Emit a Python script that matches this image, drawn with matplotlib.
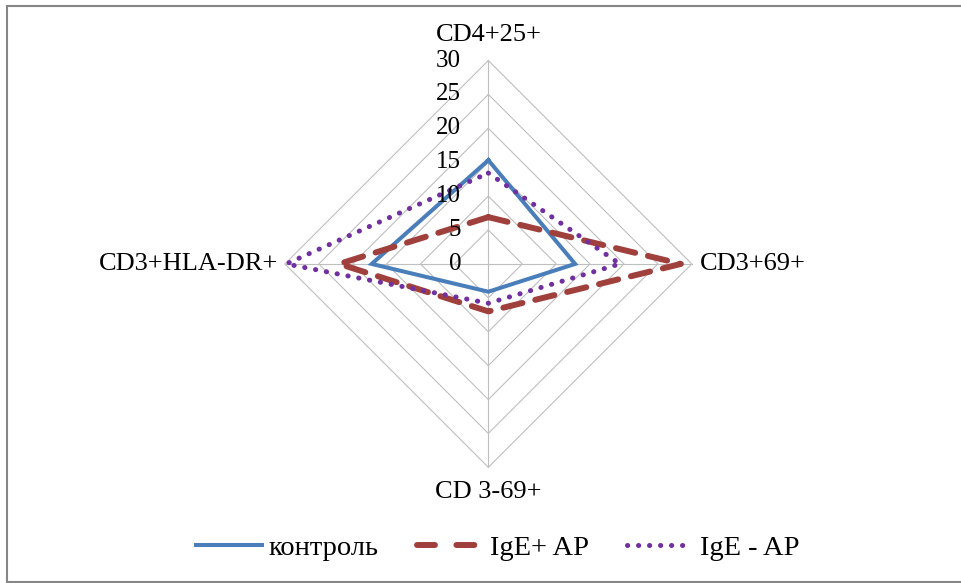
import numpy as np
import matplotlib
matplotlib.use('Agg')
import matplotlib.pyplot as plt
from matplotlib.lines import Line2D

plt.rcParams['font.family'] = ['Liberation Serif', 'DejaVu Serif']

categories = ['CD4+25+', 'CD3+69+', 'CD 3-69+', 'CD3+HLA-DR+']
control = [15.3, 12.8, 4.1, 17.2]
ige_pos = [6.9, 28.4, 7.0, 22.0]
ige_neg = [13.4, 19.4, 5.8, 29.8]
ring_levels = [0, 5, 10, 15, 20, 25, 30]
series_names = ['контроль', 'IgE+ AP', 'IgE - AP']

# spokes go up, right, down, left (clockwise from the top)
angles = np.deg2rad([90, 0, -90, 180])
r_max = 30


def to_xy(values):
    v = np.asarray(values, dtype=float)
    x = v * np.cos(angles)
    y = v * np.sin(angles)
    return np.append(x, x[0]), np.append(y, y[0])


fig = plt.figure(figsize=(9.61, 5.83), dpi=100)
ax = fig.add_axes([0.2753, 0.1635, 0.4657, 0.7676])
ax.set_xlim(-33, 33)
ax.set_ylim(-33, 33)
ax.set_aspect('equal')
ax.axis('off')

grid_col = '#BFBFBF'
for lev in ring_levels[1:]:
    gx, gy = to_xy([lev] * 4)
    ax.plot(gx, gy, color=grid_col, lw=0.8, zorder=1)
for a in angles:
    ax.plot([0, r_max * np.cos(a)], [0, r_max * np.sin(a)], color=grid_col, lw=0.8, zorder=1)

# series
x, y = to_xy(control)
ax.plot(x, y, color='#4A7EBB', lw=2.9, solid_joinstyle='miter', zorder=3)
x, y = to_xy(ige_pos)
ax.plot(x, y, color='#A0403C', lw=4.3, linestyle=(0, (3.3, 2.2)),
        dash_capstyle='round', zorder=4)
x, y = to_xy(ige_neg)
ax.plot(x, y, color='#7030A0', lw=3.6, linestyle=(0, (0.05, 2.15)),
        dash_capstyle='round', zorder=5)

# radial value labels along the top spoke
for lev in ring_levels:
    ax.text(-4.0, lev, str(lev), ha='right', va='center', fontsize=18, zorder=6)

# category labels
ax.text(0, 33.8, categories[0], ha='center', va='center', fontsize=19)
ax.text(31.2, 0, categories[1], ha='left', va='center', fontsize=19)
ax.text(0, -33.6, categories[2], ha='center', va='center', fontsize=19)
ax.text(-31.0, 0, categories[3], ha='right', va='center', fontsize=19)

handles = [
    Line2D([], [], color='#4A7EBB', lw=2.9),
    Line2D([], [], color='#A0403C', lw=4.3, linestyle=(0, (3.0, 3.6)), dash_capstyle='round'),
    Line2D([], [], color='#7030A0', lw=3.6, linestyle=(0, (0.05, 2.15)), dash_capstyle='round'),
]
fig.legend(handles, series_names, loc='center', bbox_to_anchor=(0.518, 0.06), ncol=3,
           frameon=False, fontsize=20.5, handlelength=2.3, handletextpad=0.25,
           columnspacing=1.35)

# chart frame
frame_col = '#868686'
fig.add_artist(Line2D([7 / 961, 7 / 961], [1 - 6 / 583, 1 / 583], transform=fig.transFigure,
                      color=frame_col, lw=1.5))
fig.add_artist(Line2D([7 / 961, 1.0], [1 - 6 / 583, 1 - 6 / 583], transform=fig.transFigure,
                      color=frame_col, lw=1.5))
fig.add_artist(Line2D([7 / 961, 1.0], [1 / 583, 1 / 583], transform=fig.transFigure,
                      color=frame_col, lw=1.5))

fig.savefig('out.png', dpi=100)
